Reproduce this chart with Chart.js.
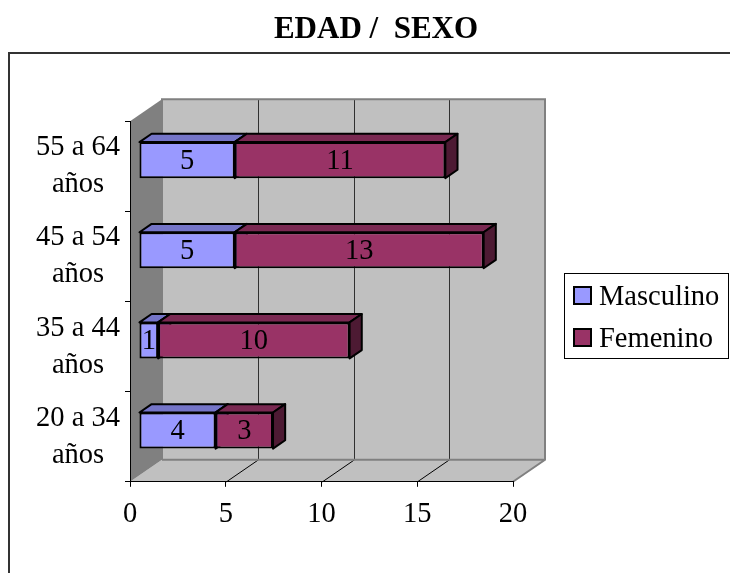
<!DOCTYPE html>
<html>
<head>
<meta charset="utf-8">
<title>EDAD / SEXO</title>
<script src="https://cdn.jsdelivr.net/npm/chart.js@4.4.1/dist/chart.umd.min.js"></script>
<style>
  html, body { margin: 0; padding: 0; background: #fff; }
  #wrap { width: 730px; height: 573px; position: relative; }
</style>
</head>
<body>
<div id="wrap"><canvas id="edadSexoChart" width="730" height="573"></canvas></div>
<script>
// ==========================================
// DATA
// ==========================================
const categories = [
  ["55 a 64", "años"],
  ["45 a 54", "años"],
  ["35 a 44", "años"],
  ["20 a 34", "años"],
];
const masculino = [5, 5, 1, 4];
const femenino = [11, 13, 10, 3];
const xMin = 0;
const xMax = 20;
const xStep = 5;

// ==========================================
// STYLE
// ==========================================
const FONT = "'Liberation Serif', 'Times New Roman', serif";
const DEPTH_X = 32;     // total depth of the 3D box
const DEPTH_Y = -22;
const BAR_FRONT = 0.28; // bar front plane (share of depth)
const BAR_DEPTH = 0.38; // bar thickness in depth

const colors = {
  masc: { front: "#9999ff", top: "#7575c8", side: "#5c5ca3" },
  fem: { front: "#993366", top: "#7a2952", side: "#4d1a33" },
};

function poly(ctx, pts) {
  ctx.beginPath();
  ctx.moveTo(pts[0][0], pts[0][1]);
  for (let i = 1; i < pts.length; i++) ctx.lineTo(pts[i][0], pts[i][1]);
  ctx.closePath();
}

// walls, floor and gridlines of the 3D box
const box3d = {
  id: "box3d",
  beforeDraw(chart) {
    const { ctx, chartArea: a } = chart;
    const L = a.left, R = a.right, T = a.top, B = a.bottom;
    const dx = DEPTH_X, dy = DEPTH_Y;
    ctx.save();

    // outer frame (only top / left visible)
    ctx.strokeStyle = "#333";
    ctx.lineWidth = 2;
    ctx.strokeRect(9, 53, 800, 600);

    // back wall
    ctx.fillStyle = "#c0c0c0";
    ctx.fillRect(L + dx, T + dy, R - L, B - T);
    // floor
    poly(ctx, [[L, B], [R, B], [R + dx, B + dy], [L + dx, B + dy]]);
    ctx.fill();
    // left wall
    ctx.fillStyle = "#808080";
    poly(ctx, [[L, T], [L + dx, T + dy], [L + dx, B + dy], [L, B]]);
    ctx.fill();

    // gridlines
    const xs = chart.scales.x;
    ctx.lineWidth = 1;
    xs.ticks.forEach((t) => {
      if (t.value <= xs.min || t.value >= xs.max) return;
      const px = Math.round(xs.getPixelForValue(t.value)) + 0.5;
      ctx.strokeStyle = "#303030";
      ctx.beginPath();
      ctx.moveTo(px + dx, T + dy);
      ctx.lineTo(px + dx, B + dy);
      ctx.stroke();
      ctx.strokeStyle = "#000";
      ctx.beginPath();
      ctx.moveTo(px, B);
      ctx.lineTo(px + dx, B + dy);
      ctx.stroke();
    });

    // wall edges
    ctx.strokeStyle = "#808080";
    ctx.lineWidth = 2;
    ctx.beginPath();
    ctx.moveTo(L + dx, B + dy);
    ctx.lineTo(L + dx, T + dy);
    ctx.lineTo(R + dx, T + dy);
    ctx.lineTo(R + dx, B + dy);
    ctx.lineTo(R, B);
    ctx.moveTo(L + dx, B + dy);
    ctx.lineTo(R + dx, B + dy);
    ctx.stroke();
    ctx.restore();
  },

  beforeDatasetsDraw(chart) {
    const ctx = chart.ctx;
    const ox = DEPTH_X * BAR_FRONT, oy = DEPTH_Y * BAR_FRONT;
    const bx = DEPTH_X * BAR_DEPTH, by = DEPTH_Y * BAR_DEPTH;
    ctx.save();
    ctx.lineWidth = 2;
    ctx.strokeStyle = "#000";
    ctx.lineJoin = "round";
    chart.data.datasets.forEach((ds, di) => {
      const meta = chart.getDatasetMeta(di);
      meta.data.forEach((bar) => {
        const x0 = bar.base + ox, x1 = bar.x + ox;
        const top = bar.y - bar.height / 2 + oy;
        const bottom = bar.y + bar.height / 2 + oy;
        ctx.fillStyle = ds.topColor;
        poly(ctx, [[x0, top], [x1, top], [x1 + bx, top + by], [x0 + bx, top + by]]);
        ctx.fill();
        ctx.stroke();
        ctx.fillStyle = ds.sideColor;
        poly(ctx, [[x1, top], [x1 + bx, top + by], [x1 + bx, bottom + by], [x1, bottom]]);
        ctx.fill();
        ctx.stroke();
      });
    });
    ctx.restore();
    // front faces drawn by Chart.js, shifted into the box
    ctx.save();
    ctx.translate(ox, oy);
  },

  afterDatasetsDraw(chart) {
    const ctx = chart.ctx;
    ctx.restore();
    const ox = DEPTH_X * BAR_FRONT, oy = DEPTH_Y * BAR_FRONT;
    ctx.save();
    ctx.font = "28.5px " + FONT;
    ctx.fillStyle = "#000";
    ctx.textAlign = "center";
    ctx.textBaseline = "middle";
    chart.data.datasets.forEach((ds, di) => {
      chart.getDatasetMeta(di).data.forEach((bar, i) => {
        const cx = (bar.base + bar.x) / 2 + ox;
        ctx.fillText(String(ds.data[i]), cx, bar.y + oy + 1);
      });
    });
    ctx.restore();
  },

  afterDraw(chart) {
    // legend box
    const ctx = chart.ctx;
    const lx = 564, ly = 273, lw = 164, lh = 85;
    ctx.save();
    ctx.fillStyle = "#fff";
    ctx.fillRect(lx, ly, lw, lh);
    ctx.strokeStyle = "#000";
    ctx.lineWidth = 1;
    ctx.strokeRect(lx + 0.5, ly + 0.5, lw, lh);
    ctx.font = "28.5px " + FONT;
    ctx.textBaseline = "alphabetic";
    ctx.textAlign = "left";
    chart.data.datasets.forEach((ds, i) => {
      const rowY = ly + 14 + i * 42;
      ctx.fillStyle = ds.backgroundColor;
      ctx.fillRect(lx + 10, rowY, 17, 17);
      ctx.lineWidth = 2;
      ctx.strokeRect(lx + 10, rowY, 17, 17);
      ctx.fillStyle = "#000";
      ctx.fillText(ds.label, lx + 35, rowY + 18);
    });
    ctx.restore();
  },
};

// ==========================================
// CHART
// ==========================================
function initChart() {
  const ctx = document.getElementById("edadSexoChart");
  new Chart(ctx.getContext("2d"), {
    type: "bar",
    data: {
      labels: categories,
      datasets: [
        {
          label: "Masculino",
          data: masculino,
          backgroundColor: colors.masc.front,
          topColor: colors.masc.top,
          sideColor: colors.masc.side,
          borderColor: "#000",
          borderWidth: 2,
          borderSkipped: false,
          barPercentage: 0.4,
          categoryPercentage: 1,
        },
        {
          label: "Femenino",
          data: femenino,
          backgroundColor: colors.fem.front,
          topColor: colors.fem.top,
          sideColor: colors.fem.side,
          borderColor: "#000",
          borderWidth: 2,
          borderSkipped: false,
          barPercentage: 0.4,
          categoryPercentage: 1,
        },
      ],
    },
    options: {
      indexAxis: "y",
      responsive: false,
      animation: false,
      layout: { padding: { left: 22, right: 0, top: 0, bottom: 30 } },
      plugins: {
        legend: { display: false },
        tooltip: { enabled: false },
        title: {
          display: true,
          text: "EDAD /  SEXO",
          color: "#000",
          font: { family: FONT, size: 31, weight: "bold" },
          padding: { top: 11, bottom: 73 },
        },
      },
      scales: {
        x: {
          stacked: true,
          min: xMin,
          max: xMax,
          grid: { drawOnChartArea: false, drawTicks: true, tickLength: 5, color: "#000" },
          border: { display: true, color: "#000", width: 1 },
          ticks: {
            stepSize: xStep,
            color: "#000",
            padding: 11,
            font: { family: FONT, size: 28.5 },
          },
        },
        y: {
          stacked: true,
          grid: { offset: true, drawOnChartArea: false, drawTicks: true, tickLength: 5, color: "#000" },
          border: { display: true, color: "#000", width: 1 },
          afterFit(scale) {
            scale.width = 108;
          },
          ticks: {
            color: "#000",
            crossAlign: "center",
            padding: 5,
            font: { family: FONT, size: 28.5, lineHeight: 1.3 },
          },
        },
        // empty right axis: keeps room for the legend
        yRight: {
          type: "linear",
          position: "right",
          grid: { display: false },
          border: { display: false },
          ticks: { display: false },
          afterFit(scale) {
            scale.width = 217;
          },
        },
      },
    },
    plugins: [box3d],
  });
}

document.addEventListener("DOMContentLoaded", function () {
  initChart();
});
</script>
</body>
</html>
